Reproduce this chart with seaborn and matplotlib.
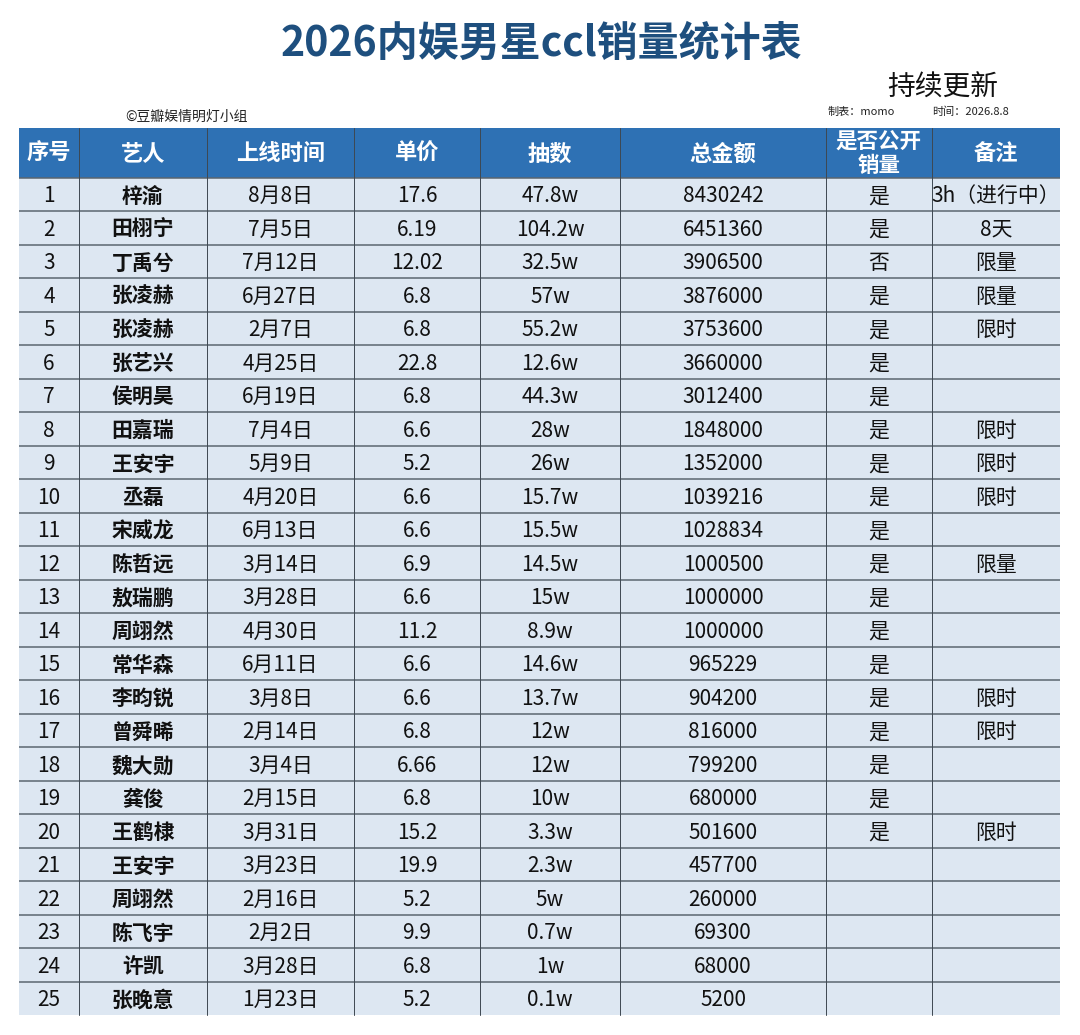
import numpy as np
import matplotlib.pyplot as plt
import seaborn as sns
from matplotlib.patches import Rectangle

# table data
ranks = list(range(1, 26))
artists = ["梓渝", "田栩宁", "丁禹兮", "张凌赫", "张凌赫", "张艺兴", "侯明昊", "田嘉瑞", "王安宇", "丞磊",
           "宋威龙", "陈哲远", "敖瑞鹏", "周翊然", "常华森", "李昀锐", "曾舜晞", "魏大勋", "龚俊", "王鹤棣",
           "王安宇", "周翊然", "陈飞宇", "许凯", "张晚意"]
dates = ["8月8日", "7月5日", "7月12日", "6月27日", "2月7日", "4月25日", "6月19日", "7月4日", "5月9日", "4月20日",
         "6月13日", "3月14日", "3月28日", "4月30日", "6月11日", "3月8日", "2月14日", "3月4日", "2月15日", "3月31日",
         "3月23日", "2月16日", "2月2日", "3月28日", "1月23日"]
prices = [17.6, 6.19, 12.02, 6.8, 6.8, 22.8, 6.8, 6.6, 5.2, 6.6,
          6.6, 6.9, 6.6, 11.2, 6.6, 6.6, 6.8, 6.66, 6.8, 15.2,
          19.9, 5.2, 9.9, 6.8, 5.2]
draws_w = [47.8, 104.2, 32.5, 57, 55.2, 12.6, 44.3, 28, 26, 15.7,
           15.5, 14.5, 15, 8.9, 14.6, 13.7, 12, 12, 10, 3.3,
           2.3, 5, 0.7, 1, 0.1]
totals = [8430242, 6451360, 3906500, 3876000, 3753600, 3660000, 3012400, 1848000, 1352000, 1039216,
          1028834, 1000500, 1000000, 1000000, 965229, 904200, 816000, 799200, 680000, 501600,
          457700, 260000, 69300, 68000, 5200]
public = ["是", "是", "否", "是", "是", "是", "是", "是", "是", "是",
          "是", "是", "是", "是", "是", "是", "是", "是", "是", "是",
          "", "", "", "", ""]
notes = ["3h（进行中）", "8天", "限量", "限量", "限时", "", "", "限时", "限时", "限时",
         "", "限量", "", "", "", "限时", "限时", "", "", "限时",
         "", "", "", "", ""]
headers = ["序号", "艺人", "上线时间", "单价", "抽数", "总金额", "是否公开\n销量", "备注"]

title = "2026内娱男星ccl销量统计表"

sns.set_theme(style="white")
plt.rcParams['font.family'] = ['Noto Sans CJK SC', 'DejaVu Sans']

fig = plt.figure(figsize=(10.8, 10.35), dpi=100)
ax = fig.add_axes([0, 0, 1, 1])
ax.set_xlim(0, 1080)
ax.set_ylim(1035, 0)
ax.axis('off')

# layout (pixels)
col_edges = [19, 79, 207, 354, 480, 620, 826, 932, 1060]
head_top, head_bot = 128, 177.5
row_h = 33.5
n_rows = len(ranks)
table_bot = head_bot + row_h * n_rows

header_color = "#2E71B4"
body_color = "#DDE7F2"

ax.add_patch(Rectangle((col_edges[0], head_top), col_edges[-1] - col_edges[0], head_bot - head_top,
                       facecolor=header_color, edgecolor="none"))
ax.add_patch(Rectangle((col_edges[0], head_bot), col_edges[-1] - col_edges[0], table_bot - head_bot,
                       facecolor=body_color, edgecolor="none"))

for i in range(n_rows):
    y = head_bot + row_h * i
    ax.plot([col_edges[0], col_edges[-1]], [y, y], color="#5B6670", lw=1.1, solid_capstyle="butt")
for x in col_edges[1:-1]:
    ax.plot([x, x], [head_top, table_bot], color="#3E4852", lw=0.7)

# header text
for j, h in enumerate(headers):
    cx = (col_edges[j] + col_edges[j + 1]) / 2
    multi = "\n" in h
    ax.text(cx, (head_top + head_bot) / 2 + 1, h, ha="center", va="center", color="white",
            fontsize=15.5 if multi else 16, fontweight="bold", linespacing=1.15)

# body text
for i in range(n_rows):
    cy = head_bot + row_h * (i + 0.5)
    cells = [str(ranks[i]), artists[i], dates[i], f"{prices[i]:g}", f"{draws_w[i]:g}w",
             str(totals[i]), public[i], notes[i]]
    for j, c in enumerate(cells):
        if not c:
            continue
        cx = (col_edges[j] + col_edges[j + 1]) / 2
        ax.text(cx, cy + 2, c, ha="center", va="center", color="#111111", fontsize=15,
                fontweight="bold" if j == 1 else "normal")

# titles and notes
ax.text(541, 44, title, ha="center", va="center", color="#1E4F7E", fontsize=29.5, fontweight="bold")
ax.text(943, 88, "持续更新", ha="center", va="center", color="#111111", fontsize=20)
ax.text(187, 117, "©豆瓣娱情明灯小组", ha="center", va="center", color="#222222", fontsize=10)
ax.text(828, 112, "制表：momo", ha="left", va="center", color="#222222", fontsize=8)
ax.text(932, 112, "时间：2026.8.8", ha="left", va="center", color="#222222", fontsize=8)

fig.savefig("out.png", dpi=100)
